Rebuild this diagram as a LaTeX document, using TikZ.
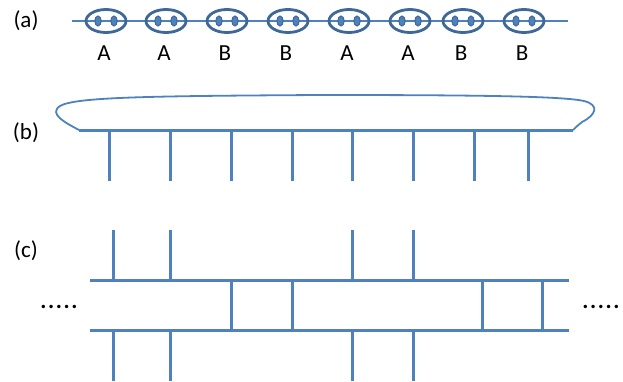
\documentclass[tikz,border=0pt]{standalone}
\usepackage{fontspec}
\setmainfont{Carlito}
\usetikzlibrary{shapes.geometric}

\definecolor{chainblue}{HTML}{4F81BD}
\definecolor{beadblue}{HTML}{3F6797}

\begin{document}
\begin{tikzpicture}[
    x=1pt, y=-1pt,
    font=\fontsize{23}{27}\selectfont,
    line width=3pt,
    bead/.style={draw=beadblue, ellipse, minimum width=40pt,
        minimum height=23pt, inner sep=0pt, line width=2.8pt},
    rail/.style={draw=chainblue, line width=3pt},
    lbl/.style={inner sep=0pt}
]
    \useasboundingbox (0,0) rectangle (623,381);

    % Row labels
    \node[lbl] (rowa) at (26,21) {(a)};
    \node[lbl] (rowb) at (26,133) {(b)};
    \node[lbl] (rowc) at (26,251) {(c)};

    % (a) chain with beads
    \draw[chainblue, line width=1.8pt] (72,21) -- (568,21);
    \foreach \x/\t [count=\i] in {106/A, 166/A, 227/B, 288/B, 349/A, 410/A, 463/B, 524/B} {
        \node[bead] (bead\i) at (\x,21) {};
        \fill[chainblue, draw=beadblue, line width=1pt]
            (\x-8,21) ellipse [x radius=3.2pt, y radius=5pt]
            (\x+8,21) ellipse [x radius=3.2pt, y radius=5pt];
        \node[lbl] (type\i) at (\x-2,53) {\t};
    }

    % (b) comb with envelope
    \draw[chainblue, line width=1.8pt] (79,130)
        .. controls (66,123) and (48,114) .. (60,106)
        .. controls (75,97) and (150,96) .. (320,95)
        .. controls (470,95) and (562,96) .. (584,101)
        .. controls (600,105) and (596,115) .. (582,122)
        .. controls (577,126) and (575,128) .. (573,130);
    \draw[rail] (79,130) -- (573,130);
    \foreach \x in {109, 170, 231, 292, 352, 413, 474, 528}
        \draw[rail] (\x,130) -- (\x,181);

    % (c) ladder
    \draw[rail] (90,280) -- (569,280);
    \draw[rail] (90,330) -- (569,330);
    \foreach \x in {113, 170, 352, 413} {
        \draw[rail] (\x,230) -- (\x,280);
        \draw[rail] (\x,330) -- (\x,381);
    }
    \foreach \x in {231, 292, 482, 542}
        \draw[rail] (\x,280) -- (\x,330);

    % continuation dots
    \node[lbl] (dotsl) at (59,307) {\textbf{.\kern1.6pt.\kern1.6pt.\kern1.6pt.\kern1.6pt.}};
    \node[lbl] (dotsr) at (601,307) {\textbf{.\kern1.6pt.\kern1.6pt.\kern1.6pt.\kern1.6pt.}};

\end{tikzpicture}
\end{document}
